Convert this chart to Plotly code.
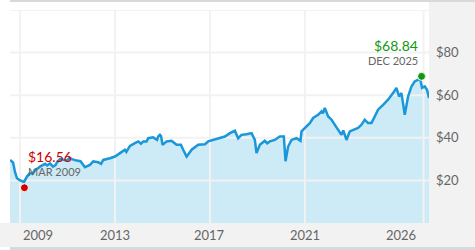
import plotly.graph_objects as go

# ---- data ----
dates = [
    "2008-07-30", "2008-08-25", "2008-09-15", "2008-10-15", "2008-11-15", "2009-01-01", "2009-02-01",
    "2009-03-03", "2009-04-17", "2009-06-03", "2009-07-10", "2009-08-19", "2009-10-01", "2009-11-04",
    "2010-01-20", "2010-02-20", "2010-04-07", "2010-05-22", "2010-07-01", "2010-07-22", "2010-09-07",
    "2010-10-23", "2010-12-24", "2011-02-01", "2011-03-10", "2011-05-21", "2011-07-20", "2011-09-26",
    "2011-12-12", "2012-02-01", "2012-04-18", "2012-06-01", "2012-07-04", "2012-10-15", "2013-01-01",
    "2013-03-18", "2013-06-03", "2013-06-25", "2013-08-19", "2013-11-04", "2013-12-25", "2014-02-05",
    "2014-03-11", "2014-05-02", "2014-05-27", "2014-08-12", "2014-10-10", "2014-10-28", "2014-11-23",
    "2014-12-10", "2015-01-03", "2015-03-06", "2015-05-21", "2015-08-06", "2015-10-12", "2015-11-16",
    "2016-01-08", "2016-02-12", "2016-03-25", "2016-07-04", "2016-10-15", "2016-12-05", "2017-02-20",
    "2017-06-03", "2017-08-19", "2017-11-04", "2018-01-20", "2018-03-11", "2018-05-02", "2018-07-18",
    "2018-10-03", "2018-11-23", "2018-12-19", "2019-02-08", "2019-04-25", "2019-06-01", "2019-07-11",
    "2019-09-26", "2019-12-12", "2020-02-12", "2020-03-09", "2020-04-18", "2020-06-09", "2020-08-25",
    "2020-10-25", "2020-11-10", "2021-01-01", "2021-03-18", "2021-05-08", "2021-07-24", "2021-09-14",
    "2021-10-05", "2021-11-04", "2021-12-25", "2022-02-15", "2022-04-07", "2022-05-27", "2022-07-18",
    "2022-08-15", "2022-10-03", "2022-11-23", "2023-01-13", "2023-03-30", "2023-05-21", "2023-07-11",
    "2023-08-31", "2023-10-22", "2023-12-12", "2024-02-01", "2024-04-18", "2024-07-04", "2024-09-19",
    "2024-11-10", "2024-12-20", "2025-01-26", "2025-03-18", "2025-05-08", "2025-06-29", "2025-08-19",
    "2025-10-09", "2025-11-14", "2025-12-09", "2026-01-20", "2026-02-24", "2026-03-26",
]
prices = [
    29.6, 29.0, 28.4, 24.0, 21.0, 20.0, 19.5,
    19.3, 21.8, 23.5, 23.0, 25.0, 25.6, 26.5,
    27.8, 27.0, 28.0, 26.5, 27.2, 28.4, 30.0,
    29.6, 29.3, 30.6, 30.0, 29.3, 29.0, 26.2,
    27.3, 28.9, 28.5, 27.8, 29.6, 30.4, 31.2,
    32.8, 34.4, 33.4, 36.2, 37.5, 38.3, 37.2,
    38.3, 38.3, 39.8, 40.2, 39.0, 40.6, 41.4,
    40.8, 36.7, 38.3, 38.6, 36.7, 36.7, 34.4,
    31.2, 32.6, 34.4, 36.7, 37.0, 38.3, 39.0,
    39.8, 40.6, 42.2, 43.3, 39.8, 41.4, 41.7,
    42.2, 39.0, 32.8, 36.7, 38.6, 37.4, 38.3,
    39.0, 40.6, 40.6, 29.0, 35.9, 39.0, 39.8,
    38.6, 43.0, 44.6, 46.9, 49.3, 50.8, 52.4,
    51.5, 54.0, 50.0, 48.5, 46.1, 43.8, 41.4,
    43.5, 39.0, 43.0, 43.8, 44.6, 46.1, 48.5,
    46.9, 46.9, 50.0, 53.2, 55.5, 57.9, 61.0,
    63.4, 59.4, 61.0, 50.8, 59.4, 64.1, 66.5,
    67.3, 67.3, 63.4, 64.1, 62.6, 58.7,
]

low_date, low_value, low_label = "2009-03-09", 16.56, "MAR 2009"
high_date, high_value, high_label = "2025-12-02", 68.84, "DEC 2025"

x_tick_dates = ["2009-01-01", "2013-01-01", "2017-01-01", "2021-01-01", "2026-01-01"]
x_tick_labels = ["2009", "2013", "2017", "2021", "2026"]
x_label_shift = [18, 0, 0, 0, -23]
y_tick_vals = [20, 40, 60, 80]
y_tick_text = [f"${v}" for v in y_tick_vals]
y_grid_vals = [20, 40, 60, 80, 100]
y_range = [0, 100]

# ---- styles ----
FONT = "Lato"
LINE = "#1997d8"
FILL = "#cdeaf7"
GRID = "#f2f2f2"
LABEL = "#666666"

fig = go.Figure()

# area fill
fig.add_trace(go.Scatter(x=dates, y=prices, mode="lines", line=dict(width=0),
                         fill="tozeroy", fillcolor=FILL, hoverinfo="skip", showlegend=False))

# grid lines drawn above the fill (from the tick arrays)
gx, gy = [], []
for d in x_tick_dates:
    gx += [d, d, None]
    gy += [y_range[0], y_range[1], None]
for v in y_grid_vals:
    gx += [dates[0], dates[-1], None]
    gy += [v, v, None]
fig.add_trace(go.Scatter(x=gx, y=gy, mode="lines", line=dict(color=GRID, width=2),
                         hoverinfo="skip", showlegend=False))

# price line
fig.add_trace(go.Scatter(x=dates, y=prices, mode="lines", line=dict(color=LINE, width=2.5),
                         showlegend=False))

# low / high markers
fig.add_trace(go.Scatter(x=[low_date], y=[low_value], mode="markers",
                         marker=dict(color="#cc0000", size=8, line=dict(color="white", width=1)),
                         showlegend=False))
fig.add_trace(go.Scatter(x=[high_date], y=[high_value], mode="markers",
                         marker=dict(color="#119911", size=8, line=dict(color="white", width=1)),
                         showlegend=False))

ann = []
ann.append(dict(x=low_date, y=low_value, text=f"${low_value:.2f}", showarrow=False,
                xanchor="left", yanchor="middle", xshift=2, yshift=31,
                font=dict(family=FONT, size=14, color="#cc0000")))
ann.append(dict(x=low_date, y=low_value, text=low_label, showarrow=False,
                xanchor="left", yanchor="middle", xshift=2, yshift=16,
                font=dict(family=FONT, size=11, color=LABEL)))
ann.append(dict(x=high_date, y=high_value, text=f"${high_value:.2f}", showarrow=False,
                xanchor="right", yanchor="middle", xshift=-2, yshift=31,
                font=dict(family=FONT, size=14, color="#119911")))
ann.append(dict(x=high_date, y=high_value, text=high_label, showarrow=False,
                xanchor="right", yanchor="middle", xshift=-2, yshift=16,
                font=dict(family=FONT, size=11, color=LABEL)))
for d, t, s in zip(x_tick_dates, x_tick_labels, x_label_shift):
    ann.append(dict(x=d, y=0, xref="x", yref="paper", text=t, showarrow=False,
                    xanchor="center", yanchor="middle", xshift=s, yshift=-12,
                    font=dict(family=FONT, size=13, color=LABEL)))

# frame: gray side / bottom bands and thin darker borders (pixel-based paper coords)
W, H = 475, 250
ML, MR, MT, MB = 10, 46, 10, 27
pw, ph = W - ML - MR, H - MT - MB
def px(xp):
    return (xp - ML) / pw
def py(yp):
    return (H - MB - yp) / ph

shapes = [
    dict(type="rect", xref="paper", yref="paper", x0=px(W - MR), x1=px(W), y0=py(247), y1=py(2),
         fillcolor="#f2f2f2", line=dict(width=0), layer="below"),
    dict(type="rect", xref="paper", yref="paper", x0=px(0), x1=px(W), y0=py(247), y1=py(H - MB),
         fillcolor="#f2f2f2", line=dict(width=0), layer="below"),
    dict(type="rect", xref="paper", yref="paper", x0=px(10), x1=px(W), y0=py(2), y1=py(0),
         fillcolor="#d9d9d9", line=dict(width=0), layer="below"),
    dict(type="rect", xref="paper", yref="paper", x0=px(10), x1=px(W), y0=py(H), y1=py(247),
         fillcolor="#d9d9d9", line=dict(width=0), layer="below"),
]

fig.update_layout(
    width=W, height=H,
    margin=dict(l=ML, r=MR, t=MT, b=MB, pad=0),
    paper_bgcolor="white", plot_bgcolor="white",
    font=dict(family=FONT, size=13, color=LABEL),
    annotations=ann, shapes=shapes,
    xaxis=dict(type="date", range=[dates[0], dates[-1]], showgrid=False, zeroline=False,
               showticklabels=False, ticks="", showline=False, fixedrange=True),
    yaxis=dict(range=y_range, side="right", showgrid=False, zeroline=False, showline=False,
               tickmode="array", tickvals=y_tick_vals, ticktext=y_tick_text, ticks="",
               ticklabelstandoff=6,
               tickfont=dict(family=FONT, size=13, color=LABEL), fixedrange=True),
)

fig.write_html("out.html")
